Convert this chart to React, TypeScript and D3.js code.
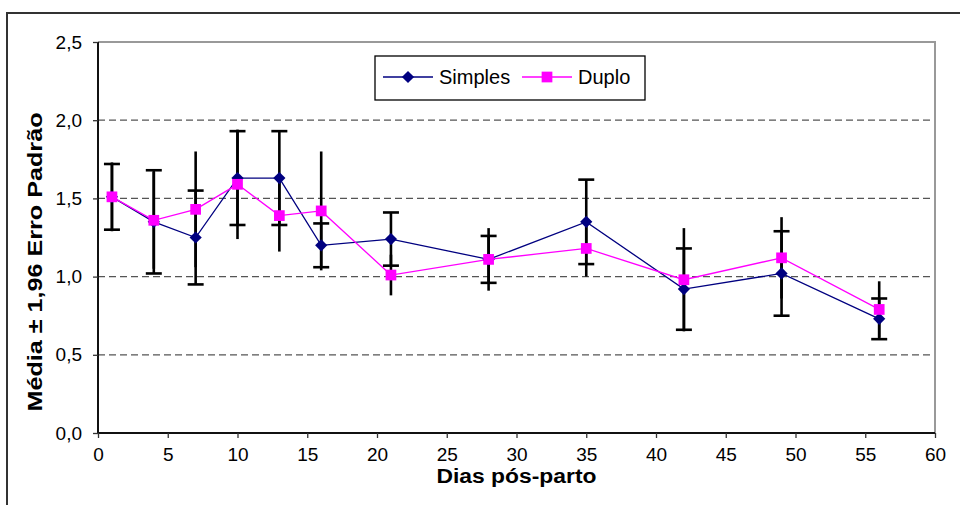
import { useEffect, useRef } from "react";
import * as d3 from "d3";

// dias pós-parto
const DAYS = [1, 4, 7, 10, 13, 16, 21, 28, 35, 42, 49, 56];
const SIMPLES = [1.51, 1.35, 1.25, 1.63, 1.63, 1.2, 1.24, 1.11, 1.35, 0.92, 1.02, 0.73];
const SIMPLES_ERR = [0.21, 0.33, 0.3, 0.3, 0.3, 0.14, 0.17, 0.15, 0.27, 0.26, 0.27, 0.13];
const DUPLO = [1.51, 1.36, 1.43, 1.59, 1.39, 1.42, 1.01, 1.11, 1.18, 0.98, 1.12, 0.79];
const DUPLO_ERR = [0.22, 0.31, 0.37, 0.35, 0.23, 0.38, 0.13, 0.2, 0.18, 0.33, 0.26, 0.18];
const X_TICKS = [0, 5, 10, 15, 20, 25, 30, 35, 40, 45, 50, 55, 60];
const Y_TICKS = [0, 0.5, 1, 1.5, 2, 2.5];
const SERIES_NAMES = ["Simples", "Duplo"];

const W = 960;
const H = 505;
const LEFT = 98;
const RIGHT = 935;
const TOP = 42;
const BOTTOM = 433;
const FONT = "'Liberation Sans', Arial, sans-serif";
const NAVY = "#000080";
const MAGENTA = "#FF00FF";

export default function App() {
  const svgRef = useRef<SVGSVGElement>(null);

  useEffect(() => {
    if (!svgRef.current) return;
    const svg = d3.select(svgRef.current);
    svg.selectAll("*").remove();

    const x = d3.scaleLinear().domain([0, 60]).range([LEFT, RIGHT]);
    const y = d3.scaleLinear().domain([0, 2.5]).range([BOTTOM, TOP]);
    const fmt = (v: number) => d3.format(".1f")(v).replace(".", ",");

    // moldura externa
    svg.append("path")
      .attr("d", `M7,${H} V13 H${W}`)
      .attr("fill", "none").attr("stroke", "#333").attr("stroke-width", 2);

    // grade
    Y_TICKS.filter((v) => v > 0 && v < 2.5).forEach((v) => {
      svg.append("line")
        .attr("x1", LEFT).attr("x2", RIGHT).attr("y1", y(v)).attr("y2", y(v))
        .attr("stroke", "#555").attr("stroke-width", 1.3).attr("stroke-dasharray", "7,4");
    });

    // borda da área
    svg.append("path")
      .attr("d", `M${LEFT},${y(2.5)} H${RIGHT} V${BOTTOM}`)
      .attr("fill", "none").attr("stroke", "#999").attr("stroke-width", 2);

    // eixos
    const yAxis = svg.append("g").attr("transform", `translate(${LEFT},0)`)
      .call(d3.axisLeft(y).tickValues(Y_TICKS).tickFormat((d) => fmt(+d)).tickSize(5).tickPadding(11));
    const xAxis = svg.append("g").attr("transform", `translate(0,${BOTTOM})`)
      .call(d3.axisBottom(x).tickValues(X_TICKS).tickFormat((d) => String(d)).tickSize(5).tickPadding(10));
    [yAxis, xAxis].forEach((ax) => {
      ax.select(".domain").attr("stroke", "#111").attr("stroke-width", 2);
      ax.selectAll(".tick line").attr("stroke", "#333").attr("stroke-width", 1.3);
      ax.selectAll(".tick text")
        .attr("fill", "#000").attr("font-family", FONT).attr("font-size", 19);
    });
    yAxis.select(".domain").attr("d", `M0,${TOP}V${BOTTOM}`);
    xAxis.select(".domain").attr("d", `M${LEFT},0H${RIGHT}`);

    // barras de erro
    const errBars = (vals: number[], errs: number[], caps: boolean) => {
      DAYS.forEach((d, i) => {
        const cx = x(d);
        const y0 = y(vals[i] - errs[i]);
        const y1 = y(vals[i] + errs[i]);
        svg.append("line")
          .attr("x1", cx).attr("x2", cx).attr("y1", y0).attr("y2", y1)
          .attr("stroke", "#000").attr("stroke-width", 2.6);
        if (caps) {
          [y0, y1].forEach((yy) => {
            svg.append("line")
              .attr("x1", cx - 8).attr("x2", cx + 8).attr("y1", yy).attr("y2", yy)
              .attr("stroke", "#000").attr("stroke-width", 2.6);
          });
        }
      });
    };
    errBars(DUPLO, DUPLO_ERR, false);
    errBars(SIMPLES, SIMPLES_ERR, true);

    const line = d3.line<number>().x((_, i) => x(DAYS[i])).y((v) => y(v));
    const diamond = d3.symbol().type(d3.symbolDiamond2).size(95);
    const square = d3.symbol().type(d3.symbolSquare).size(115);

    // Simples
    svg.append("path").attr("d", line(SIMPLES) as string)
      .attr("fill", "none").attr("stroke", NAVY).attr("stroke-width", 1.3);
    // Duplo
    svg.append("path").attr("d", line(DUPLO) as string)
      .attr("fill", "none").attr("stroke", MAGENTA).attr("stroke-width", 1.3);

    SIMPLES.forEach((v, i) => {
      svg.append("path").attr("d", diamond() as string)
        .attr("transform", `translate(${x(DAYS[i])},${y(v)})`).attr("fill", NAVY);
    });
    DUPLO.forEach((v, i) => {
      svg.append("path").attr("d", square() as string)
        .attr("transform", `translate(${x(DAYS[i])},${y(v)})`).attr("fill", MAGENTA);
    });

    // legenda
    const lg = svg.append("g");
    lg.append("rect")
      .attr("x", 375).attr("y", 56).attr("width", 270).attr("height", 44)
      .attr("fill", "#fff").attr("stroke", "#000").attr("stroke-width", 1.3);
    const entries = [
      { name: SERIES_NAMES[0], color: NAVY, sym: diamond, x0: 383 },
      { name: SERIES_NAMES[1], color: MAGENTA, sym: square, x0: 522 },
    ];
    entries.forEach((e) => {
      lg.append("line")
        .attr("x1", e.x0).attr("x2", e.x0 + 50).attr("y1", 77).attr("y2", 77)
        .attr("stroke", e.color).attr("stroke-width", 1.3);
      lg.append("path").attr("d", e.sym() as string)
        .attr("transform", `translate(${e.x0 + 25},77)`).attr("fill", e.color);
      lg.append("text")
        .attr("x", e.x0 + 56).attr("y", 77).attr("dy", "0.35em")
        .attr("font-family", FONT).attr("font-size", 20).attr("fill", "#000")
        .text(e.name);
    });

    // títulos dos eixos
    svg.append("text")
      .attr("x", (LEFT + RIGHT) / 2).attr("y", 483)
      .attr("text-anchor", "middle")
      .attr("font-family", FONT).attr("font-size", 20).attr("font-weight", "bold")
      .attr("textLength", 160).attr("lengthAdjust", "spacingAndGlyphs")
      .text("Dias pós-parto");
    svg.append("text")
      .attr("transform", `translate(42,262) rotate(-90)`)
      .attr("text-anchor", "middle")
      .attr("font-family", FONT).attr("font-size", 21).attr("font-weight", "bold")
      .attr("textLength", 299).attr("lengthAdjust", "spacingAndGlyphs")
      .text("Média ±  1,96 Erro Padrão");
  }, []);

  return (
    <svg
      ref={svgRef}
      width={W}
      height={H}
      viewBox={`0 0 ${W} ${H}`}
      style={{ position: "absolute", left: 0, top: 0, background: "#fff" }}
    />
  );
}
